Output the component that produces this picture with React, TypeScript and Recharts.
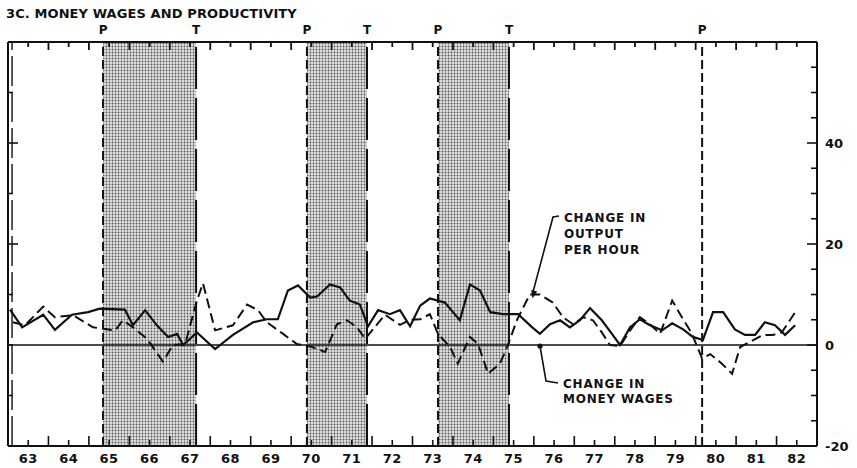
import React from 'react';
import { LineChart, Line, XAxis, YAxis, ReferenceArea, ReferenceLine } from 'recharts';

const wageYears = [1963.05, 1963.35, 1963.87, 1964.16, 1964.58, 1964.98, 1965.27, 1965.89, 1966.09, 1966.39, 1966.68, 1966.96, 1967.18, 1967.33, 1967.67, 1968.12, 1968.56, 1969.06, 1969.4, 1969.67, 1969.92, 1970.17, 1970.47, 1970.64, 1970.96, 1971.21, 1971.45, 1971.7, 1971.9, 1972.15, 1972.44, 1972.69, 1972.94, 1973.19, 1973.43, 1973.8, 1974.17, 1974.42, 1974.67, 1974.92, 1975.24, 1975.61, 1975.96, 1976.15, 1976.4, 1976.65, 1976.89, 1977.14, 1977.39, 1977.68, 1977.93, 1978.13, 1978.38, 1978.62, 1978.87, 1979.17, 1979.42, 1979.69, 1979.93, 1980.18, 1980.43, 1980.68, 1980.97, 1981.22, 1981.47, 1981.71, 1981.96, 1982.21, 1982.46];
const wageValues = [7, 3.5, 6, 3, 6, 6.5, 7.2, 7, 3.9, 6.9, 3.9, 1.6, 2.2, 0, 2.5, -0.8, 2, 4.5, 5.1, 5.1, 10.8, 11.8, 9.4, 9.6, 12, 11.4, 8.8, 8, 3.7, 6.9, 6.1, 6.9, 3.7, 7.8, 9.2, 8.4, 4.9, 12, 10.8, 6.5, 6.1, 6.1, 3.5, 2.2, 4.1, 4.9, 3.5, 4.9, 7.3, 4.9, 2.2, 0, 3.5, 5.1, 3.9, 2.9, 4.3, 3.1, 1.6, 1, 6.5, 6.5, 3.1, 2, 2, 4.5, 3.9, 2, 3.9];

const prodYears = [1963.12, 1963.42, 1963.87, 1964.16, 1964.61, 1965.1, 1965.65, 1965.84, 1966.09, 1966.44, 1966.83, 1967.08, 1967.38, 1967.67, 1967.82, 1968.12, 1968.56, 1968.91, 1969.18, 1969.4, 1969.8, 1970.14, 1970.52, 1970.84, 1971.13, 1971.38, 1971.63, 1971.83, 1972.0, 1972.32, 1972.69, 1972.94, 1973.19, 1973.43, 1973.63, 1973.93, 1974.12, 1974.42, 1974.62, 1974.87, 1975.16, 1975.34, 1975.58, 1975.9, 1976.15, 1976.47, 1976.72, 1976.97, 1977.22, 1977.46, 1977.68, 1977.88, 1978.13, 1978.38, 1978.62, 1978.87, 1979.12, 1979.42, 1979.66, 1979.91, 1980.16, 1980.36, 1980.65, 1980.9, 1981.1, 1981.34, 1981.66, 1981.91, 1982.13, 1982.33, 1982.46];
const prodValues = [4.5, 3.9, 7.6, 5.5, 5.9, 3.5, 2.9, 4.9, 3.5, 1.2, -3.3, 0, 0.2, 8.8, 12.2, 2.9, 3.9, 8, 6.9, 4.5, 2.2, 0.2, -0.4, -1.4, 4.1, 4.9, 3.5, 1.2, 2.9, 6, 4, 5, 5.1, 6.1, 2.2, -0.4, -3.7, 1.6, 0.2, -5.7, -3.7, -0.4, 4.9, 10, 10, 8.4, 5.5, 4.1, 5.5, 4.9, 2.5, 0, -0.2, 2.9, 5.5, 4.1, 2.2, 8.8, 5.5, 2.2, -2.7, -1.8, -3.7, -5.7, -0.4, 0.6, 2, 2, 2.5, 4.9, 6.5];

const peaks = [1965.35, 1970.39, 1973.63, 1980.16];
const troughs = [1967.65, 1971.875, 1975.385];
const yearLabels = [63, 64, 65, 66, 67, 68, 69, 70, 71, 72, 73, 74, 75, 76, 77, 78, 79, 80, 81, 82];
const yTicks = [-20, -15, -10, -5, 0, 5, 10, 15, 20, 25, 30, 35, 40, 45, 50, 55, 60];
const yLabels = [-20, 0, 20, 40];
const leftTicks = [-10, 0, 10, 20, 30, 40, 50];

const title = '3C. MONEY WAGES AND PRODUCTIVITY';
const outputLabel = ['CHANGE IN', 'OUTPUT', 'PER HOUR'];
const wagesLabel = ['CHANGE IN', 'MONEY WAGES'];

const wageData = wageYears.map((t, i) => ({ t, v: wageValues[i] }));
const prodData = prodYears.map((t, i) => ({ t, v: prodValues[i] }));
const xTicks: number[] = [];
yearLabels.forEach((y) => {
  if (y > 63) xTicks.push(1900 + y);
  xTicks.push(1900 + y + 0.5);
});

const FONT = '"DejaVu Sans", sans-serif';
const INK = '#111';

const isHalf = (v: number) => Math.abs(v - Math.floor(v) - 0.5) < 0.01;

const BottomTick = (props: any) => {
  const { x, y, payload } = props;
  const v = payload.value;
  const half = isHalf(v);
  return (
    <g>
      <line x1={x} x2={x} y1={y} y2={y - (half ? 6 : 10)} stroke={INK} strokeWidth={1.6} />
      {half && (
        <text x={x} y={y + 17} textAnchor="middle" fontFamily={FONT} fontWeight="bold" fontSize={13} letterSpacing={0.5} fill={INK}>
          {String(Math.floor(v)).slice(2)}
        </text>
      )}
    </g>
  );
};

const TopTick = (props: any) => {
  const { x, y, payload } = props;
  const half = isHalf(payload.value);
  return <line x1={x} x2={x} y1={y} y2={y + (half ? 5 : 8)} stroke={INK} strokeWidth={1.8} />;
};

const RightTick = (props: any) => {
  const { x, y, payload } = props;
  const v = payload.value;
  const labeled = yLabels.includes(v);
  return (
    <g>
      <line x1={x} x2={x - (labeled ? 10 : 6)} y1={y} y2={y} stroke={INK} strokeWidth={1.6} />
      {labeled && (
        <text x={x + 8} y={y + 5} textAnchor="start" fontFamily={FONT} fontWeight="bold" fontSize={13} fill={INK}>
          {v < 0 ? '-' + Math.abs(v) : String(v)}
        </text>
      )}
    </g>
  );
};

const LeftTick = (props: any) => {
  const { x, y, payload } = props;
  const big = payload.value === 20 || payload.value === 40;
  return <line x1={x} x2={x + (big ? 10 : 5)} y1={y} y2={y} stroke={INK} strokeWidth={1.6} />;
};

export default function App() {
  return (
    <div style={{ position: 'absolute', left: 0, top: 0, width: 857, height: 468, background: '#fff' }}>
      <LineChart width={857} height={468} margin={{ top: 41, right: 0, bottom: 0, left: 7 }}>
        <defs>
          <pattern id="dots" width="3" height="3" patternUnits="userSpaceOnUse">
            <rect width="3" height="3" fill="#e0e0e0" />
            <circle cx="1.5" cy="1.5" r="0.9" fill="#555" />
          </pattern>
        </defs>
        <XAxis
          xAxisId="b"
          type="number"
          dataKey="t"
          domain={[1963, 1983]}
          ticks={xTicks}
          interval={0}
          allowDataOverflow
          height={22}
          tickSize={0}
          tickMargin={0}
          tickLine={false}
          axisLine={{ stroke: INK, strokeWidth: 2 }}
          tick={BottomTick}
        />
        <XAxis
          xAxisId="top"
          orientation="top"
          type="number"
          dataKey="t"
          domain={[1963, 1983]}
          ticks={xTicks}
          interval={0}
          allowDataOverflow
          height={1}
          tickSize={0}
          tickMargin={0}
          tickLine={false}
          axisLine={{ stroke: INK, strokeWidth: 2 }}
          tick={TopTick}
        />
        <YAxis
          yAxisId="r"
          orientation="right"
          type="number"
          domain={[-20, 60]}
          ticks={yTicks}
          interval={0}
          allowDataOverflow
          width={40}
          tickSize={0}
          tickMargin={0}
          tickLine={false}
          axisLine={{ stroke: INK, strokeWidth: 2 }}
          tick={RightTick}
        />
        <YAxis
          yAxisId="l"
          orientation="left"
          type="number"
          domain={[-20, 60]}
          ticks={leftTicks}
          interval={0}
          allowDataOverflow
          width={1}
          tickSize={0}
          tickMargin={0}
          tickLine={false}
          axisLine={{ stroke: INK, strokeWidth: 2 }}
          tick={LeftTick}
        />
        {peaks.slice(0, troughs.length).map((p, i) => (
          <ReferenceArea key={'a' + i} xAxisId="b" yAxisId="r" x1={p} x2={troughs[i]} y1={-20} y2={60} fill="url(#dots)" fillOpacity={1} stroke="none" />
        ))}
        <ReferenceLine xAxisId="b" yAxisId="r" x={1963.1} stroke={INK} strokeWidth={1.4} strokeDasharray="30 6" />
        <ReferenceLine xAxisId="b" yAxisId="r" y={0} stroke={INK} strokeWidth={1.3} />
        {peaks.map((p, i) => (
          <ReferenceLine
            key={'p' + i}
            xAxisId="b"
            yAxisId="r"
            x={p}
            stroke={INK}
            strokeWidth={2}
            strokeDasharray="9 4"
            label={{ value: 'P', position: 'top', offset: 8, fill: INK, fontFamily: FONT, fontWeight: 'bold', fontSize: 12 }}
          />
        ))}
        {troughs.map((t, i) => (
          <ReferenceLine
            key={'t' + i}
            xAxisId="b"
            yAxisId="r"
            x={t}
            stroke={INK}
            strokeWidth={2}
            strokeDasharray="42 9"
            label={{ value: 'T', position: 'top', offset: 8, fill: INK, fontFamily: FONT, fontWeight: 'bold', fontSize: 12 }}
          />
        ))}
        <Line
          xAxisId="b"
          yAxisId="r"
          data={prodData}
          dataKey="v"
          type="linear"
          stroke={INK}
          strokeWidth={2}
          strokeDasharray="10 5"
          dot={false}
          isAnimationActive={false}
        />
        <Line
          xAxisId="top"
          yAxisId="l"
          data={wageData}
          dataKey="v"
          type="linear"
          stroke={INK}
          strokeWidth={2.2}
          dot={false}
          isAnimationActive={false}
        />
        <text x={6} y={18} fontFamily={FONT} fontWeight="bold" fontSize={13} letterSpacing={0.1} fill={INK}>
          {title}
        </text>
        {outputLabel.map((s, i) => (
          <text key={'o' + i} x={564} y={222 + i * 16} fontFamily={FONT} fontWeight="bold" fontSize={12} letterSpacing={0.8} fill={INK}>
            {s}
          </text>
        ))}
        {wagesLabel.map((s, i) => (
          <text key={'w' + i} x={563} y={388 + i * 15} fontFamily={FONT} fontWeight="bold" fontSize={12} letterSpacing={0.8} fill={INK}>
            {s}
          </text>
        ))}
        <polyline points="559,216 553,217 533,292" fill="none" stroke={INK} strokeWidth={1.6} />
        <polygon points="537.2,291.5 531.2,290 532.5,298.5" fill={INK} />
        <circle cx={540} cy={346} r={2.6} fill={INK} />
        <polyline points="540,346 546,381 558,383" fill="none" stroke={INK} strokeWidth={1.6} />
        <line x1={339} x2={351} y1={414} y2={414} stroke={INK} strokeWidth={2} />
      </LineChart>
    </div>
  );
}
